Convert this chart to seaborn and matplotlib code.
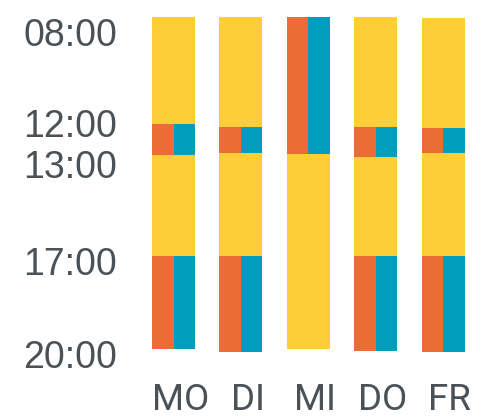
import numpy as np
import pandas as pd
import matplotlib
matplotlib.use("Agg")
import matplotlib.pyplot as plt
import seaborn as sns

# ---- data -------------------------------------------------------------
DAYS = ["MO", "DI", "MI", "DO", "FR"]
TIME_LABELS = ["08:00", "12:00", "13:00", "17:00", "20:00"]

# schedule segments (decimal hours); kind "voll" = yellow block,
# kind "geteilt" = block split into orange (left) and blue (right)
SEG_DAY = ["MO", "MO", "MO", "MO",
           "DI", "DI", "DI", "DI",
           "MI", "MI",
           "DO", "DO", "DO", "DO",
           "FR", "FR", "FR", "FR"]
SEG_START = [8.0, 12.0, 13.0, 17.0,
             8.0, 12.1, 12.92, 17.0,
             8.0, 12.97,
             8.0, 12.1, 13.07, 17.0,
             8.03, 12.13, 12.94, 17.0]
SEG_END = [12.0, 13.0, 17.0, 20.0,
           12.1, 12.92, 17.0, 20.1,
           12.97, 20.0,
           12.1, 13.07, 17.0, 20.06,
           12.13, 12.94, 17.0, 20.1]
SEG_KIND = ["voll", "geteilt", "voll", "geteilt",
            "voll", "geteilt", "voll", "geteilt",
            "geteilt", "voll",
            "voll", "geteilt", "voll", "geteilt",
            "voll", "geteilt", "voll", "geteilt"]

# ---- style ------------------------------------------------------------
YELLOW = "#FDCE38"
ORANGE = "#EC6B36"
BLUE = "#009DBD"
TEXT = "#4A5257"

sns.set_theme(style="white")
plt.rcParams["font.family"] = ["Liberation Sans", "DejaVu Sans"]

W, H = 487, 418
# piecewise vertical layout of the hand-made time axis (pixel rows)
H_ANCHOR = np.array([-100.0, 8.0, 12.0, 13.0, 17.0, 20.0, 100.0])
P_ANCHOR = np.array([17 - 108 * 26.75, 17.0, 124.0, 155.0, 256.0, 349.0, 349 + 80 * 31.0])


def fwd(h):
    return np.interp(h, H_ANCHOR, P_ANCHOR)


def inv(p):
    return np.interp(p, P_ANCHOR, H_ANCHOR)


AX_LEFT, AX_RIGHT, AX_TOP, AX_BOTTOM = 139.8, 476.8, 17.0, 365.0
LABEL_ROWS = np.array([32.0, 123.0, 164.0, 261.0, 354.0])

fig = plt.figure(figsize=(W / 100, H / 100), dpi=100)
ax = fig.add_axes([AX_LEFT / W, 1 - AX_BOTTOM / H,
                   (AX_RIGHT - AX_LEFT) / W, (AX_BOTTOM - AX_TOP) / H])

seg = pd.DataFrame({"day": SEG_DAY, "start": SEG_START, "end": SEG_END, "kind": SEG_KIND})
seg["dauer"] = seg["end"] - seg["start"]

for _, r in seg.iterrows():
    if r["kind"] == "voll":
        sns.barplot(x=[r["day"]], y=[r["dauer"]], order=DAYS, color=YELLOW,
                    width=0.64, saturation=1, errorbar=None, bottom=r["start"],
                    linewidth=0, ax=ax)
    else:
        part = pd.DataFrame({"day": [r["day"]] * 2, "dauer": [r["dauer"]] * 2,
                             "seite": ["L", "R"]})
        sns.barplot(data=part, x="day", y="dauer", hue="seite", hue_order=["L", "R"],
                    palette={"L": ORANGE, "R": BLUE}, order=DAYS, dodge=True,
                    width=0.64, saturation=1, errorbar=None, bottom=r["start"],
                    linewidth=0, legend=False, ax=ax)

ax.set_yscale("function", functions=(fwd, inv))
ax.set_ylim(inv(AX_BOTTOM), 8.0)
ax.set_xlim(-0.5, 4.5)

ax.set_yticks(inv(LABEL_ROWS), TIME_LABELS, ha="center")
ax.set_xticks(np.arange(len(DAYS)) + 0.1, DAYS, family=["Roboto", "DejaVu Sans"])
ax.tick_params(axis="y", length=0, pad=50.3, labelsize=27, labelcolor=TEXT)
ax.tick_params(axis="x", length=0, pad=12, labelsize=26.5, labelcolor=TEXT)
ax.set_xlabel("")
ax.set_ylabel("")
ax.grid(False)
sns.despine(ax=ax, left=True, bottom=True)

fig.savefig("out.png", dpi=100)
